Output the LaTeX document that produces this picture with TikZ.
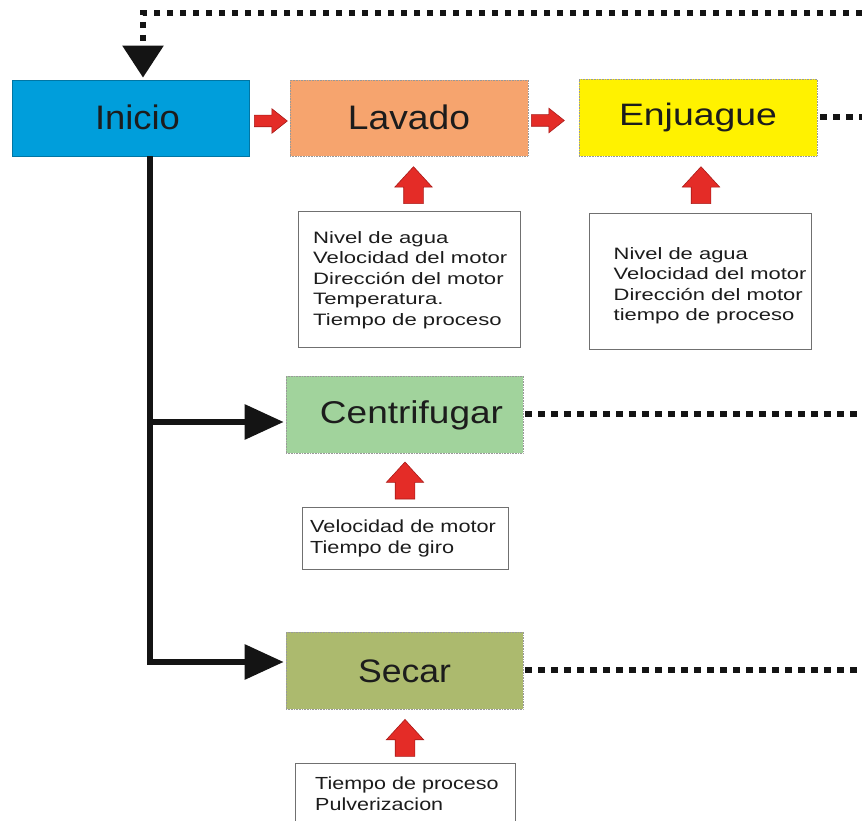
\documentclass[tikz,border=0pt]{standalone}
\usepackage{fontspec}
\setmainfont{Liberation Sans}
\usepackage{graphicx}
\usetikzlibrary{arrows.meta,shapes.arrows,calc}

\definecolor{inicioBlue}{HTML}{009EDB}
\definecolor{lavadoOrange}{HTML}{F6A46E}
\definecolor{enjuagueYellow}{HTML}{FFF200}
\definecolor{centriGreen}{HTML}{A1D39C}
\definecolor{secarOlive}{HTML}{ACBA6E}
\definecolor{blockRed}{HTML}{E42C27}
\definecolor{blockRedEdge}{HTML}{A81A18}
\definecolor{inkText}{HTML}{1C1C1C}
\definecolor{frameGray}{HTML}{707070}
\definecolor{lineBlack}{HTML}{141414}

% horizontally widened text
\newcommand\widetext[2]{\scalebox{#1}[1]{#2}}
\newcommand\infolines[2]{\scalebox{#1}[1]{\begin{tabular}[t]{@{}l@{}}#2\end{tabular}}}

\begin{document}
\begin{tikzpicture}[x=1pt,y=1pt,
  stage/.style={rectangle, inner sep=0pt, minimum width=237pt, minimum height=77pt,
    text=inkText, draw=black!40, densely dotted, line width=0.6pt,
    text height=24pt, text depth=0pt},
  infobox/.style={rectangle, draw=frameGray, line width=0.9pt, fill=white, inner sep=0pt},
  infotext/.style={inner sep=0pt, anchor=base west, text=inkText},
  blockup/.style={single arrow, rotate=90, anchor=tail, fill=blockRed, draw=blockRedEdge,
    line width=0.6pt, inner xsep=0pt, inner ysep=9.5pt, minimum height=37pt,
    single arrow head extend=8.85pt, single arrow tip angle=85},
  blockright/.style={single arrow, anchor=tail, fill=blockRed, draw=blockRedEdge,
    line width=0.6pt, inner xsep=0pt, inner ysep=5.5pt, minimum height=33pt,
    single arrow head extend=6.5pt, single arrow tip angle=77},
  trunk/.style={draw=lineBlack, line width=6pt, line join=miter},
  flowtip/.style={-{Triangle[length=39pt,width=34pt]}},
  dotline/.style={draw=lineBlack, line width=6pt, dash pattern=on 6.5pt off 6.5pt}
]
\useasboundingbox (0,0) rectangle (862,-821);
\clip (0,0) rectangle (862,-821);

% process stages
\node[stage, fill=inicioBlue, draw=inicioBlue!75!black, solid, line width=0.8pt,
      minimum height=76pt, font=\fontsize{34}{40}\selectfont]
  (inicio) at (130.5,-118) {\hspace*{14pt}\widetext{1.07}{Inicio}};
\node[stage, fill=lavadoOrange, minimum width=238pt, minimum height=76pt,
      font=\fontsize{34}{40}\selectfont]
  (lavado) at (409,-118) {\widetext{1.094}{Lavado}};
\node[stage, fill=enjuagueYellow, minimum width=238pt,
      font=\fontsize{31}{38}\selectfont, text height=22pt, text depth=5pt]
  (enjuague) at (698,-117.5) {\widetext{1.206}{Enjuague}};
\node[stage, fill=centriGreen, font=\fontsize{31.5}{38}\selectfont,
      text height=22.5pt, text depth=5pt]
  (centrifugar) at (404.5,-414.5) {\hspace*{14pt}\widetext{1.175}{Centrifugar}};
\node[stage, fill=secarOlive, font=\fontsize{32.5}{38}\selectfont, text height=23.5pt]
  (secar) at (404.5,-670.5) {\widetext{1.095}{Secar}};

% parameter boxes
\node[infobox, minimum width=222pt, minimum height=136pt] (b1) at (409,-279) {};
\node[infobox, minimum width=222pt, minimum height=136pt] (b2) at (700,-281) {};
\node[infobox, minimum width=206pt, minimum height=62pt] (b3) at (405,-538) {};
\node[infobox, minimum width=220pt, minimum height=67pt] (b4) at (405,-796.5) {};

\node[infotext, font=\fontsize{16.5}{20.5}\selectfont] (t1) at (313,-243.3)
  {\infolines{1.34}{Nivel de agua\\Velocidad del motor\\Dirección del motor\\Temperatura.\\Tiempo de proceso}};
\node[infotext, font=\fontsize{16.5}{20.5}\selectfont] (t2) at (613.5,-259.3)
  {\infolines{1.33}{Nivel de agua\\Velocidad del motor\\Dirección del motor\\tiempo de proceso}};
\node[infotext, font=\fontsize{17.5}{20.5}\selectfont] (t3) at (310,-532.7)
  {\infolines{1.24}{Velocidad de motor\\Tiempo de giro}};
\node[infotext, font=\fontsize{17.5}{21}\selectfont] (t4) at (315,-789)
  {\infolines{1.23}{Tiempo de proceso\\Pulverizacion}};

% red block arrows, placed by their tails
\node[blockright] (rr1) at (254,-121) {};
\node[blockright] (rr2) at (531,-120.5) {};
\node[blockup] (ru1) at (413.5,-204) {};
\node[blockup] (ru2) at (701,-204) {};
\node[blockup] (ru3) at (405,-499.3) {};
\node[blockup] (ru4) at (405,-756.7) {};

% solid branching connectors from Inicio
\coordinate (trunkTop) at ($(inicio.south)+(19.5,0)$);
\coordinate (centriIn) at ($(centrifugar.west)+(-2,-7.5)$);
\coordinate (secarIn) at ($(secar.west)+(-2,8.5)$);
\draw[trunk, flowtip] (trunkTop) |- (secarIn);
\draw[trunk, flowtip] (trunkTop |- centriIn) -- (centriIn);

% dotted return lines
\coordinate (loopEnd) at (862,-13);
\coordinate (inicioIn) at ($(inicio.north)+(12.5,2)$);
\draw[dotline, -{Triangle[length=32pt,width=40pt]}] (loopEnd) -| (inicioIn);

\coordinate (enjuagueOut) at (862,-117.5);
\coordinate (centriOut) at (862,-414);
\coordinate (secarOut) at (862,-670);
\draw[dotline] ([xshift=3pt]enjuague.east) -- (enjuagueOut);
\draw[dotline] ([xshift=2pt,yshift=0.5pt]centrifugar.east) -- (centriOut);
\draw[dotline] ([xshift=2pt,yshift=0.5pt]secar.east) -- (secarOut);
\end{tikzpicture}
\end{document}
